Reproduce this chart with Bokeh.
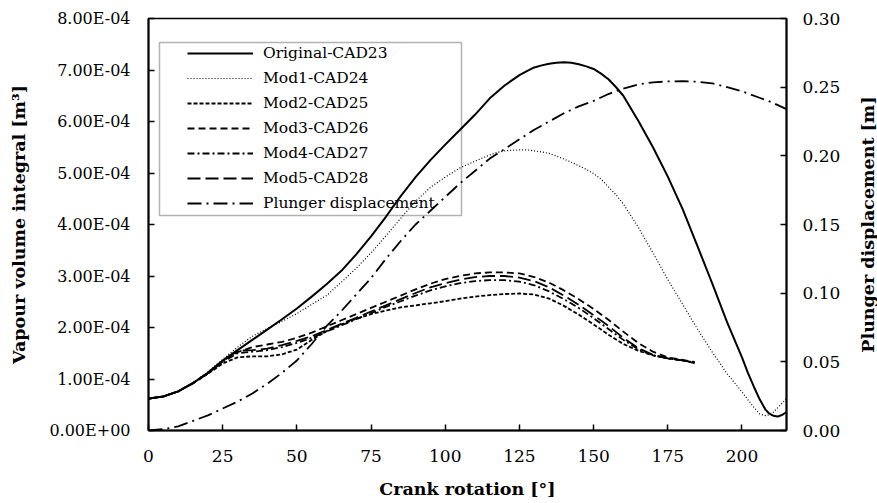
import math
from bokeh.plotting import figure
from bokeh.layouts import row
from bokeh.models import (Range1d, LinearAxis, FixedTicker, Legend, LegendItem,
                          BoxAnnotation, Label)
from bokeh.embed import file_html
from bokeh.resources import INLINE

# ---------------- data ----------------
SCALE = 1e-4  # left-axis values below are in units of 1e-4 m^3

x_orig = [0, 5, 10, 15, 20, 25, 30, 35, 40, 45, 50, 55, 60, 65, 70, 75, 80, 85, 90, 95,
          100, 105, 110, 115, 120, 125, 127.5, 130, 132.5, 135, 137.5, 140, 142.5, 145,
          147.5, 150, 152.5, 155, 157.5, 160, 165, 170, 175, 180, 185, 190, 195, 200, 202,
          204, 206, 208, 209, 210, 211, 212, 213, 214, 215]
original = [0.62, 0.66, 0.76, 0.92, 1.12, 1.36, 1.56, 1.76, 1.96, 2.16, 2.37, 2.60, 2.84,
            3.10, 3.42, 3.77, 4.15, 4.55, 4.92, 5.25, 5.55, 5.84, 6.13, 6.45, 6.70, 6.90,
            6.98, 7.05, 7.09, 7.12, 7.14, 7.15, 7.14, 7.11, 7.07, 7.02, 6.93, 6.82, 6.67,
            6.50, 6.02, 5.50, 4.93, 4.30, 3.58, 2.85, 2.10, 1.42, 1.12, 0.85, 0.60, 0.40,
            0.34, 0.30, 0.28, 0.27, 0.29, 0.32, 0.36]

x_mod1 = [0, 5, 10, 15, 20, 25, 30, 35, 40, 45, 50, 55, 60, 65, 70, 75, 80, 85, 90, 95,
          100, 105, 110, 115, 117.5, 120, 122.5, 125, 127.5, 130, 132.5, 135, 137.5, 140,
          142.5, 145, 147.5, 150, 152.5, 155, 157.5, 160, 165, 170, 175, 180, 185, 190,
          195, 200, 203, 206, 208, 210, 213, 215]
mod1 = [0.62, 0.66, 0.76, 0.93, 1.14, 1.38, 1.62, 1.83, 1.98, 2.12, 2.27, 2.45, 2.62, 2.88,
        3.15, 3.45, 3.78, 4.12, 4.45, 4.72, 4.92, 5.10, 5.23, 5.35, 5.40, 5.43, 5.44, 5.45,
        5.45, 5.43, 5.41, 5.38, 5.33, 5.27, 5.21, 5.14, 5.07, 4.99, 4.88, 4.73, 4.58, 4.40,
        3.95, 3.45, 2.93, 2.45, 1.97, 1.52, 1.10, 0.75, 0.52, 0.32, 0.29, 0.32, 0.50, 0.62]

x_mods = [0, 5, 10, 15, 20, 25, 30, 35, 40, 45, 50, 55, 60, 65, 70, 75, 80, 85, 90, 95,
          100, 105, 110, 115, 120, 125, 130, 135, 140, 145, 150, 155, 160, 165, 170, 175,
          180, 184]
mod2 = [0.62, 0.66, 0.76, 0.92, 1.10, 1.30, 1.42, 1.44, 1.44, 1.48, 1.57, 1.76, 1.93, 2.06,
        2.17, 2.26, 2.33, 2.39, 2.43, 2.47, 2.51, 2.56, 2.60, 2.63, 2.65, 2.66, 2.64, 2.56,
        2.42, 2.25, 2.06, 1.86, 1.68, 1.55, 1.46, 1.40, 1.36, 1.32]
mod3 = [0.62, 0.66, 0.76, 0.92, 1.12, 1.35, 1.52, 1.62, 1.67, 1.72, 1.80, 1.90, 2.02, 2.14,
        2.26, 2.38, 2.50, 2.62, 2.74, 2.85, 2.94, 3.00, 3.05, 3.07, 3.07, 3.05, 2.98, 2.87,
        2.72, 2.55, 2.36, 2.15, 1.92, 1.70, 1.53, 1.42, 1.37, 1.33]
mod4 = [0.62, 0.66, 0.76, 0.92, 1.11, 1.33, 1.50, 1.53, 1.56, 1.62, 1.70, 1.80, 1.92, 2.04,
        2.16, 2.28, 2.40, 2.51, 2.62, 2.72, 2.80, 2.86, 2.90, 2.92, 2.92, 2.89, 2.82, 2.70,
        2.55, 2.38, 2.18, 1.97, 1.76, 1.58, 1.46, 1.40, 1.36, 1.31]
mod5 = [0.62, 0.66, 0.76, 0.92, 1.11, 1.34, 1.55, 1.56, 1.59, 1.66, 1.74, 1.83, 1.95, 2.07,
        2.19, 2.31, 2.43, 2.55, 2.67, 2.78, 2.86, 2.93, 2.98, 3.00, 3.00, 2.97, 2.90, 2.78,
        2.62, 2.44, 2.24, 2.03, 1.80, 1.60, 1.47, 1.40, 1.36, 1.32]

x_plunger = [0, 5, 10, 15, 20, 25, 30, 35, 40, 45, 50, 55, 60, 65, 70, 75, 80, 85, 90, 95,
             100, 105, 110, 115, 120, 125, 130, 135, 140, 145, 150, 155, 160, 165, 170, 175,
             180, 185, 190, 195, 200, 205, 210, 215]
plunger = [0.000, 0.001, 0.003, 0.007, 0.011, 0.016, 0.021, 0.027, 0.034, 0.042, 0.051,
           0.063, 0.076, 0.087, 0.099, 0.111, 0.125, 0.138, 0.150, 0.160, 0.170, 0.180,
           0.189, 0.198, 0.205, 0.212, 0.219, 0.225, 0.231, 0.236, 0.240, 0.245, 0.249,
           0.252, 0.2535, 0.2542, 0.2543, 0.2540, 0.2527, 0.2500, 0.2470, 0.2430, 0.2390,
           0.2340]

x_ticks = [0, 25, 50, 75, 100, 125, 150, 175, 200]
left_ticks = [0, 1e-4, 2e-4, 3e-4, 4e-4, 5e-4, 6e-4, 7e-4, 8e-4]
left_tick_labels = ["0.00E+00", "1.00E-04", "2.00E-04", "3.00E-04", "4.00E-04",
                    "5.00E-04", "6.00E-04", "7.00E-04", "8.00E-04"]
right_ticks = [0, 0.05, 0.10, 0.15, 0.20, 0.25, 0.30]
right_tick_labels = ["0.00", "0.05", "0.10", "0.15", "0.20", "0.25", "0.30"]

series_names = ["Original-CAD23", "Mod1-CAD24", "Mod2-CAD25", "Mod3-CAD26",
                "Mod4-CAD27", "Mod5-CAD28", "Plunger displacement"]
right_axis_title = "Plunger displacement [m]"

# ---------------- figure ----------------
FONT = "DejaVu Serif"
p = figure(width=852, height=503, output_backend="svg", toolbar_location=None,
           x_range=Range1d(0, 215), y_range=Range1d(0, 8e-4),
           min_border_left=148, min_border_right=66, min_border_top=18,
           min_border_bottom=73)
p.extra_y_ranges = {"right": Range1d(0, 0.30)}
p.xgrid.visible = False
p.ygrid.visible = False
p.outline_line_color = "black"
p.outline_line_width = 1.5
p.background_fill_color = "white"
p.border_fill_color = "white"

def style_axis(ax, standoff, size):
    ax.axis_line_color = "black"
    ax.axis_line_width = 2
    ax.major_tick_line_color = "black"
    ax.major_tick_line_width = 1.5
    ax.major_tick_in = 6
    ax.major_tick_out = 0
    ax.minor_tick_line_color = None
    ax.major_label_text_font = FONT
    ax.major_label_text_font_size = size
    ax.major_label_text_color = "black"
    ax.major_label_standoff = standoff
    ax.axis_label_text_font = FONT
    ax.axis_label_text_font_size = "17.5px"
    ax.axis_label_text_font_style = "bold"
    ax.axis_label_text_color = "black"

xa = p.xaxis[0]
xa.ticker = FixedTicker(ticks=x_ticks)
xa.axis_label = "Crank rotation [°]"
style_axis(xa, 19, "17px")
xa.axis_label_standoff = 14

ya = p.yaxis[0]
ya.ticker = FixedTicker(ticks=left_ticks)
ya.major_label_overrides = {t: l for t, l in zip(left_ticks, left_tick_labels)}
ya.axis_label = "Vapour volume integral [m³]"
style_axis(ya, 18, "16px")
ya.axis_label_standoff = 17

ra = LinearAxis(y_range_name="right", ticker=FixedTicker(ticks=right_ticks))
ra.major_label_overrides = {t: l for t, l in zip(right_ticks, right_tick_labels)}
style_axis(ra, 16, "17px")
p.add_layout(ra, "right")

# ---------------- lines ----------------
def sc(vals):
    return [v * SCALE for v in vals]

common = dict(line_color="black", line_join="round")
r_plunger = p.line(x_plunger, plunger, y_range_name="right", line_width=1.8,
                   line_dash="14 5 2 5", **common)
r_mod2 = p.line(x_mods, sc(mod2), line_width=1.8, line_dash="4 2", **common)
r_mod3 = p.line(x_mods, sc(mod3), line_width=1.8, line_dash="7 4", **common)
r_mod4 = p.line(x_mods, sc(mod4), line_width=1.8, line_dash="7 3 2 3", **common)
r_mod5 = p.line(x_mods, sc(mod5), line_width=1.8, line_dash="13 5", **common)
r_mod1 = p.line(x_mod1, sc(mod1), line_width=1.2, line_dash="1 2", **common)
r_orig = p.line(x_orig, sc(original), line_width=2, **common)

renderers = [r_orig, r_mod1, r_mod2, r_mod3, r_mod4, r_mod5, r_plunger]
legend = Legend(items=[LegendItem(label=n, renderers=[r]) for n, r in zip(series_names, renderers)],
                location=(35, 213), padding=4, spacing=5, glyph_width=66, glyph_height=20,
                label_height=20, label_standoff=10, label_text_font=FONT,
                label_text_font_size="15.5px", label_text_color="black",
                border_line_alpha=0, background_fill_alpha=0, margin=0)
p.add_layout(legend, "center")

legend_box = BoxAnnotation(left=11, right=313, top=388, bottom=215,
                           left_units="screen", right_units="screen",
                           top_units="screen", bottom_units="screen",
                           fill_alpha=0, line_color="black", line_width=1.5)
p.add_layout(legend_box)

# narrow companion panel carrying the right-axis title (reads bottom-to-top)
t = figure(width=25, height=503, output_backend="svg", toolbar_location=None,
           x_axis_type=None, y_axis_type=None, min_border=0,
           x_range=Range1d(0, 1), y_range=Range1d(0, 1))
t.outline_line_color = None
t.xgrid.visible = False
t.ygrid.visible = False
t.background_fill_color = "white"
t.border_fill_color = "white"
t.add_layout(Label(x=15, y=206, x_units="screen", y_units="screen",
                   text=right_axis_title, angle=math.pi / 2,
                   text_align="center", text_baseline="middle",
                   text_font=FONT, text_font_size="17.5px", text_font_style="bold",
                   text_color="black"))

layout = row(p, t, spacing=0)
open("out.html", "w").write(file_html(layout, INLINE))
